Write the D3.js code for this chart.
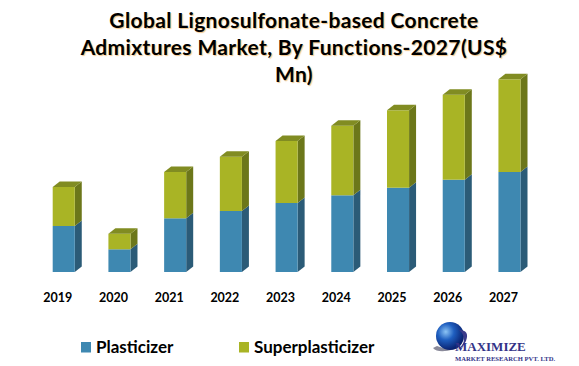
<!DOCTYPE html>
<html>
<head>
<meta charset="utf-8"/>
<style>
  body { margin: 0; background: #fff; }
  svg { display: block; }
  text { font-family: "Lato", "Open Sans", sans-serif; }
</style>
</head>
<body>
<div id="chart"></div>
<script src="https://cdn.jsdelivr.net/npm/d3@7"></script>
<script>
// data (arbitrary units)
var years = ["2019", "2020", "2021", "2022", "2023", "2024", "2025", "2026", "2027"];
var plasticizer = [46, 22.7, 53.7, 61, 69, 76.7, 84.3, 92.3, 100];
var superplasticizer = [39, 15.6, 46.3, 54.3, 62, 69.6, 77.4, 85, 92.7];
var seriesNames = ["Plasticizer", "Superplasticizer"];
var titleLines = ["Global Lignosulfonate-based Concrete", "Admixtures Market, By Functions-2027(US$", "Mn)"];

var W = 579, H = 366;
var dx = 7, dy = 5.5; // fake 3d depth

var front = { Plasticizer: "#3e88b1", Superplasticizer: "#a9b425" };
var side  = { Plasticizer: "#2b5b77", Superplasticizer: "#6c771a" };
var topc  = { Plasticizer: "#33709a", Superplasticizer: "#818c22" };

var svg = d3.select("#chart").append("svg")
    .attr("width", W).attr("height", H);

// title
svg.append("g").selectAll("text")
    .data(titleLines)
  .enter().append("text")
    .attr("x", 294)
    .attr("y", function(d, i) { return 27.5 + i * 27.3; })
    .attr("text-anchor", "middle")
    .attr("font-size", 21)
    .attr("font-weight", "bold")
    .attr("letter-spacing", 0.35)
    .attr("fill", "#000")
    .style("text-shadow", "1px 1px 1px rgba(230,150,40,0.55)")
    .text(function(d) { return d; });

var x = d3.scaleBand()
    .domain(years)
    .range([52.7, 520.5])
    .paddingInner(0.604)
    .paddingOuter(0);

var y = d3.scaleLinear()
    .domain([0, 200])
    .range([272, 72]);

var stackData = years.map(function(yr, i) {
  return { year: yr, Plasticizer: plasticizer[i], Superplasticizer: superplasticizer[i] };
});
var stacked = d3.stack().keys(seriesNames)(stackData);

var bw = x.bandwidth();

var g = svg.append("g");
stacked.forEach(function(s) {
  var key = s.key;
  var grp = g.append("g");
  s.forEach(function(d) {
    var x0 = x(d.data.year), x1 = x0 + bw;
    var yb = y(d[0]), yt = y(d[1]);
    // side face
    grp.append("path")
      .attr("d", "M" + x1 + "," + yb + "L" + (x1 + dx) + "," + (yb - dy) +
                 "L" + (x1 + dx) + "," + (yt - dy) + "L" + x1 + "," + yt + "Z")
      .attr("fill", side[key]);
    // front face
    grp.append("rect")
      .attr("x", x0).attr("y", yt)
      .attr("width", bw).attr("height", yb - yt)
      .attr("fill", front[key]);
    // top face, only visible on top segment
    if (key === seriesNames[seriesNames.length - 1]) {
      grp.append("path")
        .attr("d", "M" + x0 + "," + yt + "L" + (x0 + dx) + "," + (yt - dy) +
                   "L" + (x1 + dx) + "," + (yt - dy) + "L" + x1 + "," + yt + "Z")
        .attr("fill", topc[key]);
    }
  });
});

// year labels
svg.append("g").selectAll("text")
    .data(years)
  .enter().append("text")
    .attr("x", function(d) { return x(d) + bw / 2 - 6; })
    .attr("y", 302)
    .attr("text-anchor", "middle")
    .attr("font-size", 12.5)
    .attr("font-weight", "bold")
    .attr("fill", "#000")
    .text(function(d) { return d; });

// legend
var legX = [81, 239];
var leg = svg.append("g").selectAll("g")
    .data(seriesNames)
  .enter().append("g")
    .attr("transform", function(d, i) { return "translate(" + legX[i] + ",0)"; });
leg.append("rect")
    .attr("x", 0).attr("y", 342)
    .attr("width", 10).attr("height", 10.5)
    .attr("fill", function(d) { return front[d]; });
leg.append("text")
    .attr("x", 15).attr("y", 353)
    .attr("font-size", 17)
    .attr("font-weight", "bold")
    .attr("fill", "#000")
    .text(function(d) { return d; });

// logo
var logo = svg.append("g");
var defs = svg.append("defs");
var rg = defs.append("radialGradient").attr("id", "globe")
    .attr("cx", "35%").attr("cy", "35%").attr("r", "65%");
rg.append("stop").attr("offset", "0%").attr("stop-color", "#8cc4f5");
rg.append("stop").attr("offset", "45%").attr("stop-color", "#1f5fc0");
rg.append("stop").attr("offset", "100%").attr("stop-color", "#0a2270");
logo.append("path")
    .attr("d", "M433,348 Q440,356 470,344 Q450,352 437,346 Z")
    .attr("fill", "#8a8a9a");
logo.append("circle")
    .attr("cx", 450).attr("cy", 336).attr("r", 14)
    .attr("fill", "url(#globe)");
logo.append("path")
    .attr("d", "M459,330 Q470,330 466,341 Q463,348 455,351 Q468,344 462,333 Z")
    .attr("fill", "#3a3a8a");
logo.append("text")
    .attr("x", 455).attr("y", 351)
    .style("font-family", "'Liberation Serif', serif")
    .attr("font-weight", "bold")
    .attr("font-size", 13)
    .attr("fill", "#333388")
    .text("MAXIMIZE");
logo.append("text")
    .attr("x", 455).attr("y", 360.5)
    .style("font-family", "'Liberation Serif', serif")
    .attr("font-weight", "bold")
    .attr("font-size", 6.6)
    .attr("fill", "#333388")
    .text("MARKET RESEARCH PVT. LTD.");
</script>
</body>
</html>
